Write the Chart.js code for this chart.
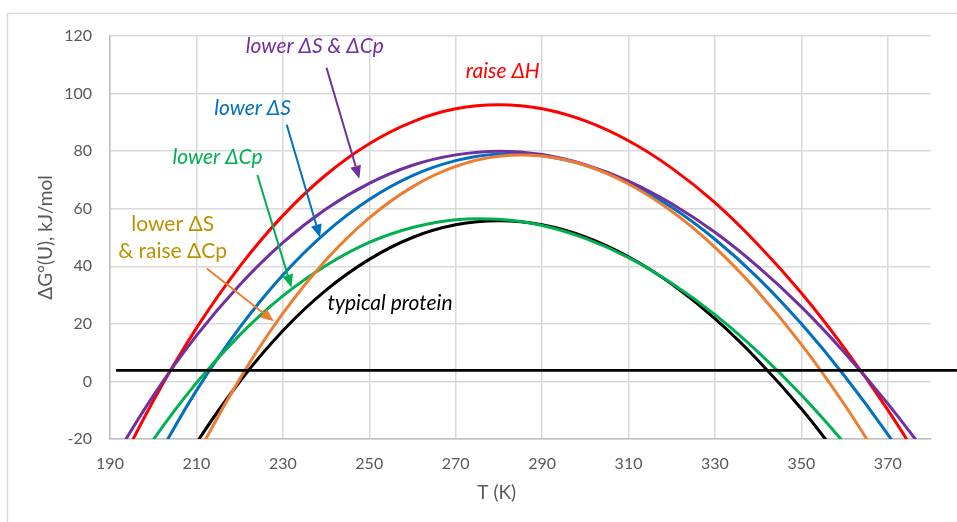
<!DOCTYPE html>
<html>
<head>
<meta charset="utf-8">
<script src="https://cdn.jsdelivr.net/npm/chart.js"></script>
<style>
  html, body { margin: 0; padding: 0; background: #fff; }
</style>
</head>
<body>
<canvas id="stabilityChart" width="957" height="522"></canvas>
<script>
// temperature grid (K) and ΔG°(U) values in kJ/mol for each protein variant
const temps = [190, 200, 210, 220, 230, 240, 250, 260, 270, 280, 290, 300, 310, 320, 330, 340, 350, 360, 370, 380];
const typicalProtein  = [null, -46.5, -21.4, -0.1, 17.6, 31.7, 42.4, 50.0, 54.4, 55.8, 54.4, 50.2, 43.3, 33.8, 21.8, 7.3, -9.5, -28.7, null, null];
const raiseDH         = [-36.0, -6.8, 18.5, 39.9, 57.6, 71.8, 82.6, 90.2, 94.7, 96.1, 94.7, 90.5, 83.6, 74.1, 62.1, 47.5, 30.7, 11.5, -9.9, -33.6];
const lowerDS         = [null, -28.9, -3.2, 18.7, 37.0, 51.8, 63.2, 71.5, 76.7, 79.0, 78.4, 75.1, 69.0, 60.5, 49.4, 35.9, 20.0, 1.9, -18.4, -40.9];
const lowerDCp        = [-43.4, -20.3, -0.5, 16.1, 29.7, 40.3, 48.3, 53.5, 56.2, 56.3, 54.2, 49.7, 43.0, 34.1, 23.2, 10.2, -4.7, -21.5, -40.1, null];
const lowerDSandDCp   = [-29.1, -5.0, 15.9, 33.5, 48.2, 59.9, 68.8, 75.1, 78.7, 80.0, 78.8, 75.3, 69.6, 61.7, 51.8, 39.8, 25.9, 10.0, -7.7, -27.2];
const lowerDSraiseDCp = [null, -58.1, -26.3, 0.8, 23.6, 42.2, 56.8, 67.6, 74.7, 78.2, 78.3, 75.1, 68.6, 59.1, 46.6, 31.1, 12.9, -8.1, -31.7, null];

// reference line across the plot
const refLineT = [191.4, 386];
const refLineG = [3.8, 3.8];

const xTickValues = [190, 210, 230, 250, 270, 290, 310, 330, 350, 370];
const yTickValues = [-20, 0, 20, 40, 60, 80, 100, 120];

function toPoints(xs, ys) {
  return xs.map((x, i) => ({ x: x, y: ys[i] })).filter(p => p.y !== null);
}

// text labels with arrows, positioned in data units
const notes = [
  { lines: ['lower ΔS & ΔCp'], color: '#7030A0', italic: true, at: [237.4, 116.4],
    arrow: { color: '#7030A0', from: [240.1, 109.0], to: [247.7, 70.4] } },
  { lines: ['raise ΔH'], color: '#FF0000', italic: true, at: [280.9, 107.6] },
  { lines: ['lower ΔS'], color: '#0070C0', italic: true, at: [223.0, 94.8],
    arrow: { color: '#0070C0', from: [230.9, 89.2], to: [238.6, 50.0] } },
  { lines: ['lower ΔCp'], color: '#00B050', italic: true, at: [214.9, 78.0],
    arrow: { color: '#00B050', from: [224.1, 71.7], to: [232.0, 32.6] } },
  { lines: ['lower ΔS', '& raise ΔCp'], color: '#BF9000', italic: false, at: [204.5, 50.0],
    arrow: { color: '#ED7D31', from: [212.4, 39.2], to: [227.9, 20.9] } },
  { lines: ['typical protein'], color: '#000000', italic: true, at: [254.8, 27.3] }
];

const FONT = 'Lato, "Open Sans", sans-serif';

const notesPlugin = {
  id: 'notes',
  beforeDraw(chart) {
    const ctx = chart.ctx;
    ctx.save();
    ctx.fillStyle = '#fff';
    ctx.fillRect(0, 0, chart.width, chart.height);
    // outer chart frame
    ctx.strokeStyle = '#d9d9d9';
    ctx.lineWidth = 1.5;
    ctx.strokeRect(7.5, 13.5, 2000, 2000);
    ctx.restore();
  },
  afterDatasetsDraw(chart) {
    const { ctx, scales: { x, y } } = chart;
    ctx.save();
    notes.forEach(n => {
      if (n.arrow) {
        const x1 = x.getPixelForValue(n.arrow.from[0]), y1 = y.getPixelForValue(n.arrow.from[1]);
        const x2 = x.getPixelForValue(n.arrow.to[0]), y2 = y.getPixelForValue(n.arrow.to[1]);
        const ang = Math.atan2(y2 - y1, x2 - x1);
        const head = 13, half = 5.5;
        ctx.strokeStyle = n.arrow.color;
        ctx.fillStyle = n.arrow.color;
        ctx.lineWidth = 2;
        ctx.beginPath();
        ctx.moveTo(x1, y1);
        ctx.lineTo(x2 - Math.cos(ang) * head, y2 - Math.sin(ang) * head);
        ctx.stroke();
        ctx.beginPath();
        ctx.moveTo(x2, y2);
        ctx.lineTo(x2 - Math.cos(ang) * head + Math.sin(ang) * half, y2 - Math.sin(ang) * head - Math.cos(ang) * half);
        ctx.lineTo(x2 - Math.cos(ang) * head - Math.sin(ang) * half, y2 - Math.sin(ang) * head + Math.cos(ang) * half);
        ctx.closePath();
        ctx.fill();
      }
      ctx.font = (n.italic ? 'italic ' : '') + '21px ' + FONT;
      ctx.fillStyle = n.color;
      ctx.textAlign = 'center';
      ctx.textBaseline = 'middle';
      const cx = x.getPixelForValue(n.at[0]);
      const cy = y.getPixelForValue(n.at[1]);
      const gap = 26.7;
      n.lines.forEach((t, i) => {
        ctx.fillText(t, cx, cy + (i - (n.lines.length - 1) / 2) * gap);
      });
    });

    // axis titles
    ctx.fillStyle = '#595959';
    ctx.font = '19px ' + FONT;
    ctx.textAlign = 'center';
    ctx.textBaseline = 'middle';
    ctx.fillText('T (K)', x.getPixelForValue(279.5), 493);
    ctx.translate(46, (y.top + y.bottom) / 2);
    ctx.rotate(-Math.PI / 2);
    ctx.fillText('ΔG°(U), kJ/mol', 0, 0);
    ctx.restore();
  }
};

const curve = (label, values, color) => ({
  label: label,
  data: toPoints(temps, values),
  borderColor: color,
  backgroundColor: color,
  borderWidth: 3,
  pointRadius: 0,
  tension: 0.4,
  fill: false
});

new Chart(document.getElementById('stabilityChart'), {
  type: 'line',
  data: {
    datasets: [
      {
        label: 'reference',
        data: toPoints(refLineT, refLineG),
        borderColor: '#000',
        borderWidth: 2.75,
        pointRadius: 0,
        clip: false
      },
      curve('lower ΔS & raise ΔCp', lowerDSraiseDCp, '#ED7D31'),
      curve('lower ΔS & ΔCp', lowerDSandDCp, '#7030A0'),
      curve('lower ΔCp', lowerDCp, '#00B050'),
      curve('lower ΔS', lowerDS, '#0070C0'),
      curve('raise ΔH', raiseDH, '#FF0000'),
      curve('typical protein', typicalProtein, '#000000')
    ]
  },
  options: {
    responsive: false,
    animation: false,
    layout: { padding: { left: 0, right: 26, top: 36, bottom: 0 } },
    plugins: {
      legend: { display: false },
      tooltip: { enabled: false }
    },
    scales: {
      x: {
        type: 'linear',
        min: 190,
        max: 380,
        afterBuildTicks: s => { s.ticks = xTickValues.map(v => ({ value: v })); },
        afterFit: s => { s.height = 83; },
        grid: { color: '#d9d9d9', lineWidth: 1.5, drawTicks: false },
        border: { display: true, color: '#bfbfbf', width: 1.5 },
        ticks: { color: '#595959', font: { family: FONT, size: 16 }, padding: 15 }
      },
      y: {
        min: -20,
        max: 120,
        afterBuildTicks: s => { s.ticks = yTickValues.map(v => ({ value: v })); },
        afterFit: s => { s.width = 110; },
        grid: { color: '#d9d9d9', lineWidth: 1.5, drawTicks: false },
        border: { display: true, color: '#bfbfbf', width: 1.5 },
        ticks: { color: '#595959', font: { family: FONT, size: 16 }, padding: 18 }
      }
    }
  },
  plugins: [notesPlugin]
});
</script>
</body>
</html>
